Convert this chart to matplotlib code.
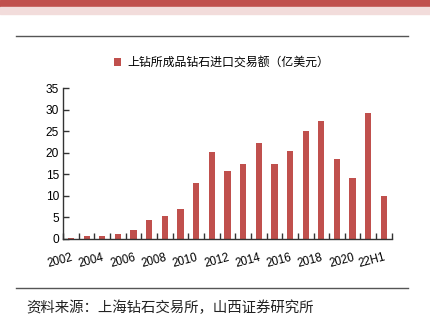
import matplotlib
matplotlib.use('Agg')
import matplotlib.pyplot as plt
from matplotlib.patches import Rectangle
from matplotlib.lines import Line2D

plt.rcParams['font.family'] = ['Liberation Sans', 'Noto Sans CJK SC']

# 数据
categories = [str(y) for y in range(2002, 2022)] + ['22H1']
values = [0.3, 0.6, 0.7, 1.1, 2.0, 4.3, 5.3, 7.0, 13.1, 20.3,
          15.9, 17.4, 22.4, 17.5, 20.4, 25.2, 27.4, 18.5, 14.2, 29.3, 10.1]
series_name = '上钻所成品钻石进口交易额（亿美元）'
source = '资料来源：上海钻石交易所，山西证券研究所'

bar_color = '#C0504D'

fig = plt.figure(figsize=(4.30, 3.31), dpi=100)
ax = fig.add_axes([0.147, 0.278, 0.764, 0.455])

pos = list(range(len(categories)))
bars = ax.bar(pos, values, 0.4, color=bar_color, label=series_name)

ax.set_xlim(-0.5, len(categories) - 0.5)
ax.set_ylim(0, 35)
ax.set_yticks(range(0, 36, 5))

# 刻度线在柱子之间，标签隔一个显示
ax.set_xticks([p - 0.5 for p in pos] + [len(categories) - 0.5])
ax.set_xticklabels([])
ax.tick_params(axis='x', which='major', direction='in', length=4, width=1, color='#333333')
ax.set_xticks(pos[::2], minor=True)
ax.set_xticklabels(categories[::2], minor=True, rotation=15, ha='right',
                   rotation_mode='anchor', fontsize=8.3)
ax.tick_params(axis='x', which='minor', length=0, pad=9)
ax.tick_params(axis='y', direction='in', length=4, width=1, color='#333333',
               labelsize=8.6, pad=3)

for s in ['top', 'right']:
    ax.spines[s].set_visible(False)
for s in ['left', 'bottom']:
    ax.spines[s].set_color('#333333')
    ax.spines[s].set_linewidth(1)

# 图例
ax.legend(loc='center', bbox_to_anchor=(0.515, 0.81), bbox_transform=fig.transFigure,
          frameon=False, handlelength=0.6, handleheight=0.6,
          handletextpad=0.5, prop={'family': 'Noto Sans CJK SC', 'size': 8.6})

# 页面装饰
fig.patches.append(Rectangle((0, 1 - 7 / 331), 1, 7 / 331, transform=fig.transFigure,
                             color='#C0504D', zorder=0))
fig.patches.append(Rectangle((0, 1 - 14 / 331), 1, 7 / 331, transform=fig.transFigure,
                             color='#F2DCDB', zorder=0))
fig.lines.append(Line2D([16 / 430, 408 / 430], [1 - 35.5 / 331] * 2, transform=fig.transFigure,
                        color='#555555', lw=1))
fig.lines.append(Line2D([16 / 430, 408 / 430], [1 - 288 / 331] * 2, transform=fig.transFigure,
                        color='#555555', lw=1))
fig.text(26 / 430, 1 - 308 / 331, source, fontsize=10.4, va='center', ha='left',
         family='Noto Sans CJK SC', color='#222222')

fig.savefig('out.png', dpi=100)
